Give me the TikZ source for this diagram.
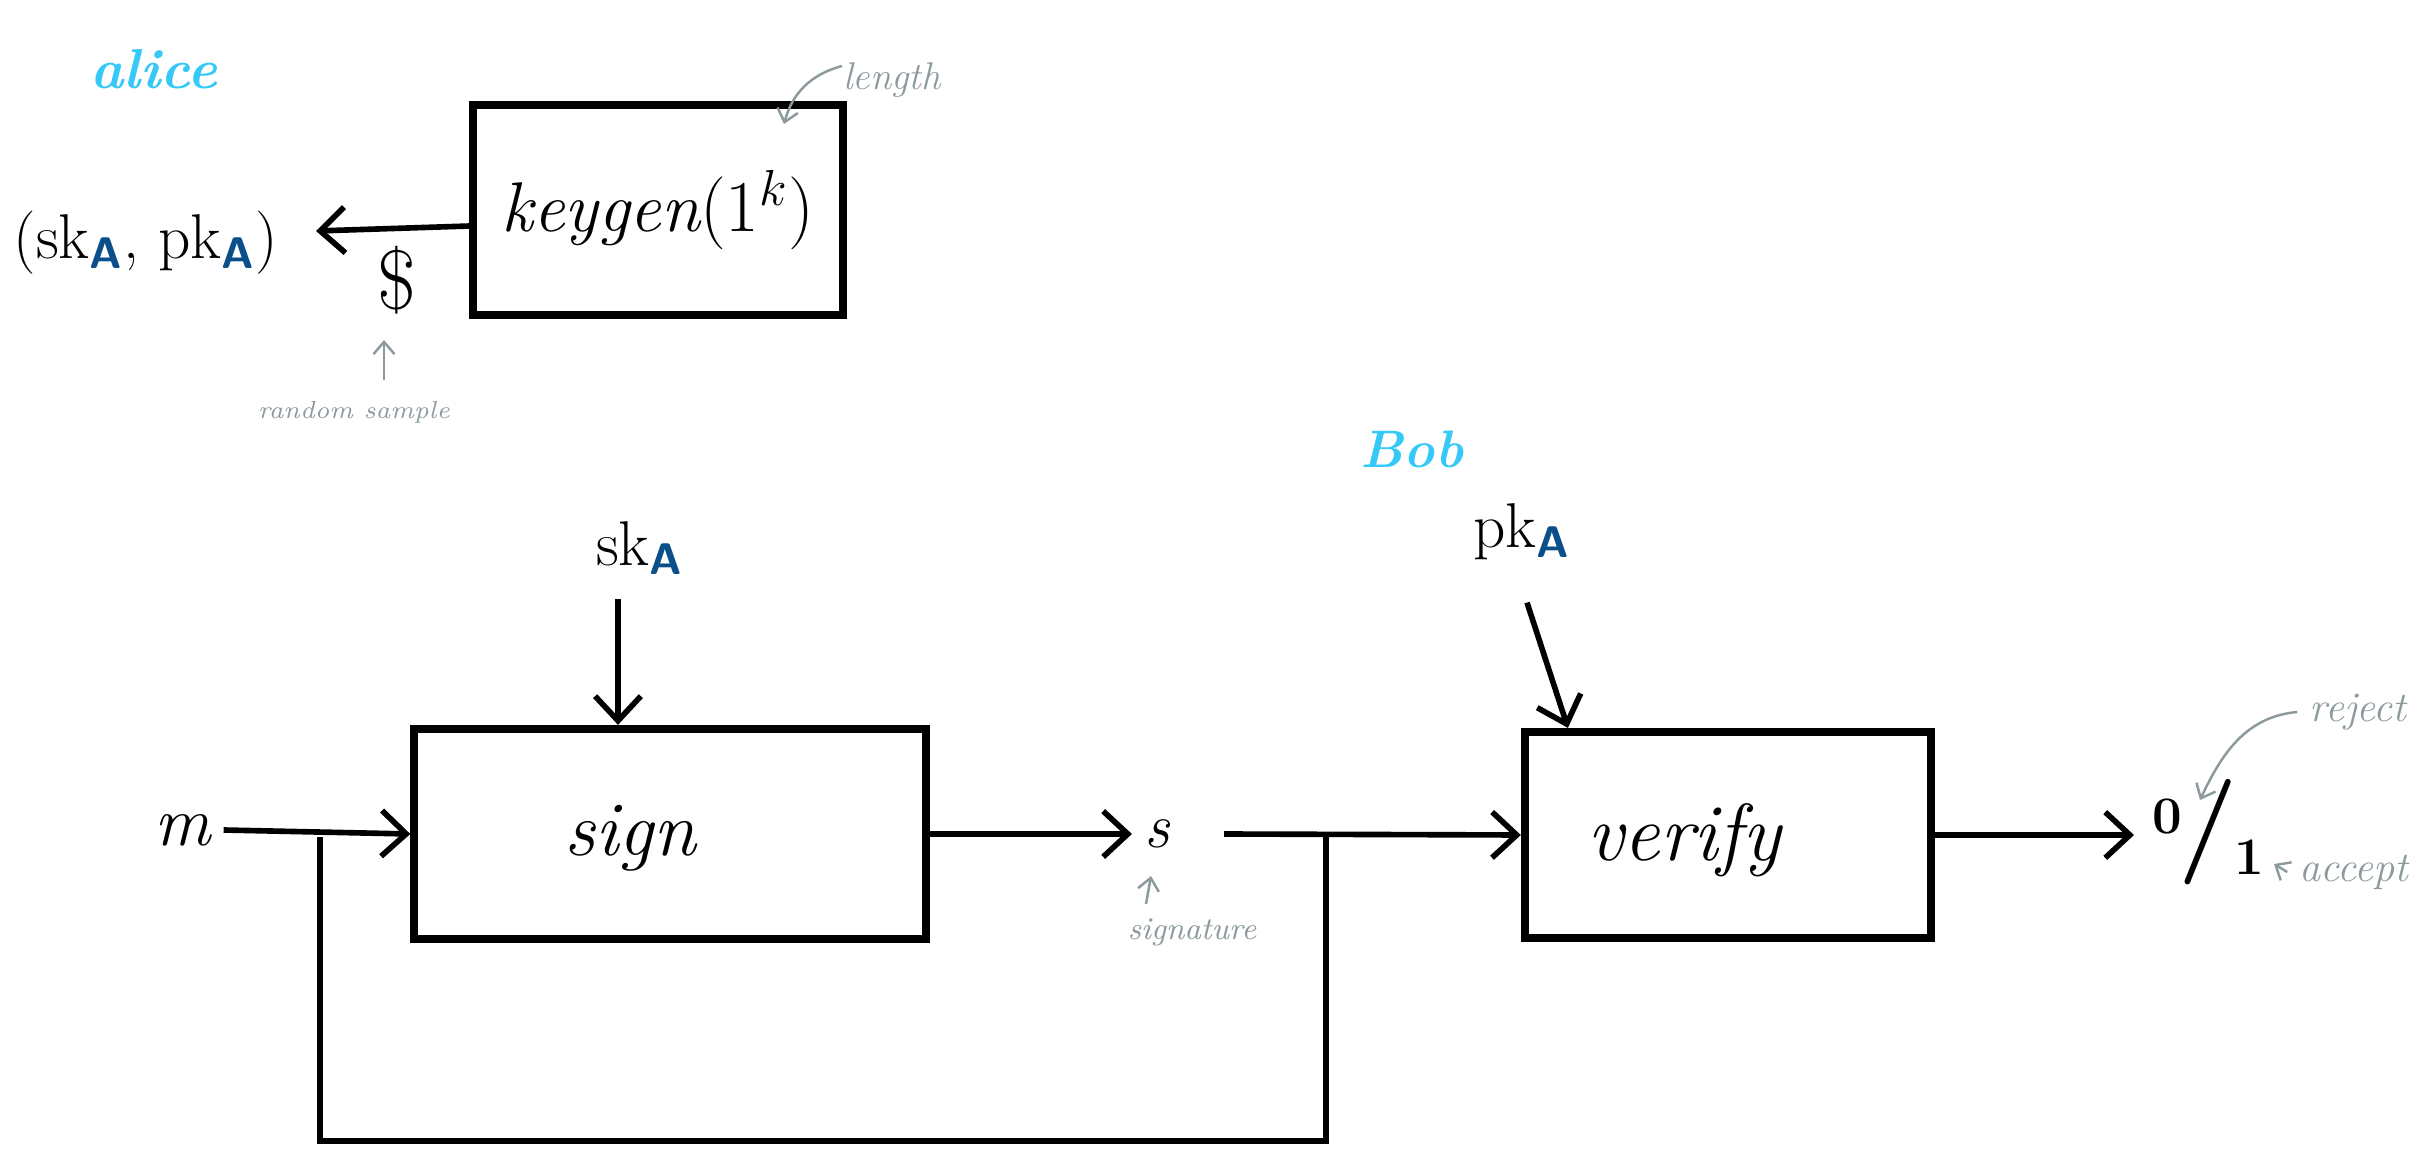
\documentclass[tikz,border=0pt]{standalone}
\usepackage{tikz}
\usetikzlibrary{arrows.meta}
\definecolor{kblue}{HTML}{36C9F8}
\definecolor{kdark}{HTML}{0B4F8A}
\definecolor{kgray}{HTML}{8C9A9E}
\newcommand{\myA}{\textcolor{kdark}{\textsf{\textbf{A}}}}
\newcommand{\fs}[1]{\fontsize{#1}{#1}\selectfont}
\begin{document}
\begin{tikzpicture}[x=0.01cm, y=-0.01cm,
  box/.style={draw, line width=2.3pt, inner sep=0pt},
  conn/.style={line width=1.6pt, -{Straight Barb[length=7pt,width=13pt,line width=1.6pt]}},
  plainline/.style={line width=1.6pt},
  note/.style={text=kgray, font=\itshape},
  notearrow/.style={draw=kgray, line width=0.7pt, -{Straight Barb[length=3.5pt,width=6pt,line width=0.7pt]}},
  who/.style={text=kblue, font=\bfseries\itshape}
]
\useasboundingbox (0,0) rectangle (2411,1158);
\clip (0,0) rectangle (2411,1158);

% ---- keygen part
\node[who, font=\bfseries\itshape\fs{16}] (alice) at (154,69) {alice};
\node[box, minimum width=3.69cm, minimum height=2.09cm, font=\itshape\fs{20}] (keygen) at (658,210) {keygen$(1^{k})$};
\node[font=\fs{18}] (keys) at (146,243) {(sk\textsubscript{\myA}, pk\textsubscript{\myA})};
\coordinate (ktip) at (316,231);
\draw[conn] ([yshift=-0.16cm]keygen.west) -- (ktip);
\node[font=\fs{24}] (dollar) at (397,280) {\$};
\node[note, font=\itshape\fs{7}] (rand) at (354,412) {random sample};
\coordinate (ra) at (384,380);
\coordinate (rb) at (384,340);
\draw[notearrow] (ra) -- (rb);
\node[note, font=\itshape\fs{11}] (length) at (892,80) {length};
\coordinate (la) at (842,66);
\coordinate (lb) at (784,124);
\draw[notearrow] (la) to[out=195,in=75] (lb);

% ---- sign part
\node[font=\fs{18}] (skA) at (640,548) {sk\textsubscript{\myA}};
\node[box, minimum width=5.11cm, minimum height=2.10cm] (sign) at (670,834) {};
\node[font=\itshape\fs{22}] (signtxt) at (630,838) {sign};
\draw[conn] ([shift={(-0.22cm,-0.12cm)}]skA.south) -- ([xshift=-0.22cm]skA.south |- sign.north);
\node[font=\itshape\fs{20}] (m) at (183,830) {m};
\draw[conn] (m.east) -- (sign.west);
\coordinate (br) at (320,837);
\coordinate (b1) at (320,1141);
\coordinate (b2) at (1326,1141);
\coordinate (j) at (1326,837);
\draw[plainline] (br) -- (b1) -- (b2) -- (j);
\node[font=\itshape\fs{18}] (s) at (1157,834) {s};
\draw[conn] (sign.east) -- (s.west);
\node[note, font=\itshape\fs{9}] (sig) at (1192,932) {signature};
\coordinate (sa) at (1146,904);
\coordinate (sb) at (1151,876);
\draw[notearrow] (sa) -- (sb);

% ---- verify part
\node[who, font=\bfseries\itshape\fs{15}] (bob) at (1412,449) {Bob};
\node[font=\fs{18}] (pkA) at (1522,532) {pk\textsubscript{\myA}};
\node[box, minimum width=4.06cm, minimum height=2.06cm] (verify) at (1728,835) {};
\node[font=\itshape\fs{23}] (vertxt) at (1684,840) {verify};
\draw[conn] ([shift={(0.05cm,-0.3cm)}]pkA.south) -- ([xshift=-1.6cm]verify.north);
\draw[conn] ([xshift=0.42cm]s.east) -- (verify.west);
\node[inner sep=0pt] (out) at (2208,832) {\fs{30}\raisebox{0.55ex}{\fs{15}\bfseries 0}\kern-1pt\textbf{/}\kern-1pt\raisebox{-0.35ex}{\fs{15}\bfseries 1}};
\coordinate (otip) at (2134,835);
\draw[conn] (verify.east) -- (otip);
\node[note, font=\itshape\fs{12}] (reject) at (2358,712) {reject};
\node[note, font=\itshape\fs{12}] (accept) at (2354,872) {accept};
\coordinate (rj) at (2200,800);
\draw[notearrow] (reject.west) to[out=185,in=65] (rj);
\coordinate (ac) at (2274,864);
\draw[notearrow] (accept.west) -- (ac);
\end{tikzpicture}
\end{document}
